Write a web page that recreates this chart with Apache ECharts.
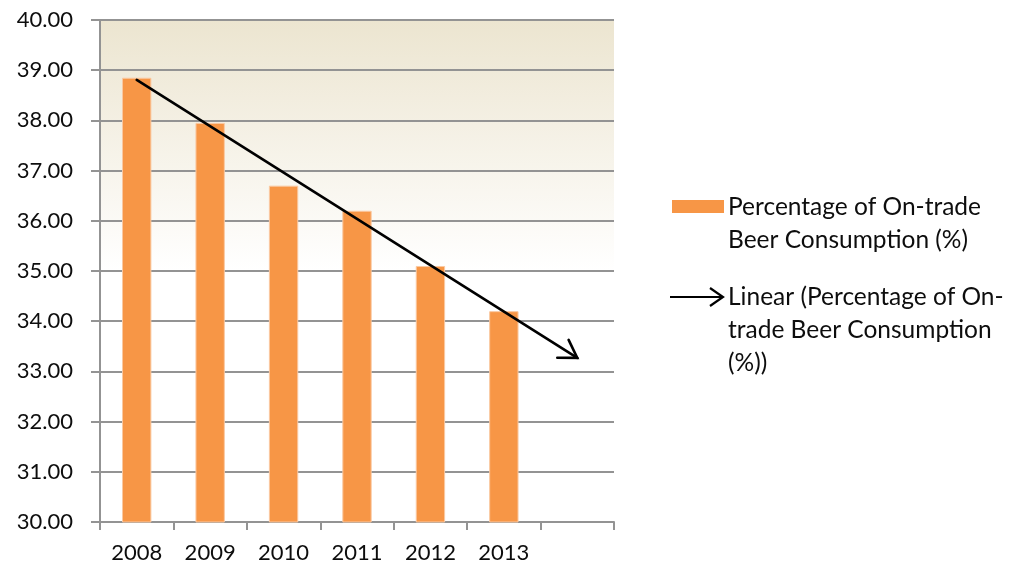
<!DOCTYPE html>
<html>
<head>
<meta charset="utf-8">
<title>On-trade Beer Consumption</title>
<script src="https://cdn.jsdelivr.net/npm/echarts@6/dist/echarts.min.js"></script>
<style>
  html, body { margin: 0; padding: 0; background: #ffffff; }
  #chart { width: 1012px; height: 569px; }
</style>
</head>
<body>
<div id="chart"></div>
<script>
// Years on the category axis; the last slot is left empty for the trend forecast
const years = ['2008', '2009', '2010', '2011', '2012', '2013', ''];
// Percentage of on-trade beer consumption per year
const onTradeShare = [38.85, 37.95, 36.7, 36.2, 35.1, 34.2];
// Value axis range and step
const yMin = 30;
const yMax = 40;
const yStep = 1;

const seriesName = 'Percentage of On-trade Beer Consumption (%)';
const trendName = 'Linear (Percentage of On-trade Beer Consumption (%))';

// Least-squares linear trend over the yearly values
function linearFit(values) {
  const n = values.length;
  let sx = 0, sy = 0, sxx = 0, sxy = 0;
  values.forEach(function (v, i) {
    sx += i; sy += v; sxx += i * i; sxy += i * v;
  });
  const slope = (n * sxy - sx * sy) / (n * sxx - sx * sx);
  const intercept = (sy - slope * sx) / n;
  return function (x) { return intercept + slope * x; };
}
const trend = linearFit(onTradeShare);
const lastIndex = years.length - 1;
// One segment: start index, start value, end index, end value
const trendSegment = [[0, trend(0), lastIndex, trend(lastIndex)]];

const font = 'Lato, "Open Sans", sans-serif';
const textColor = '#0d0d0d';
const gridColor = '#939393';

// Trend line with an open arrowhead at its far end
function renderTrend(params, api) {
  const p0 = api.coord([api.value(0), api.value(1)]);
  const p1 = api.coord([api.value(2), api.value(3)]);
  const ang = Math.atan2(p1[1] - p0[1], p1[0] - p0[0]);
  const arm = 20, spread = 0.56;
  const a1 = [p1[0] - arm * Math.cos(ang - spread), p1[1] - arm * Math.sin(ang - spread)];
  const a2 = [p1[0] - arm * Math.cos(ang + spread), p1[1] - arm * Math.sin(ang + spread)];
  const style = { stroke: '#000000', lineWidth: 2.6, fill: null, lineCap: 'round', lineJoin: 'miter' };
  return {
    type: 'group',
    children: [
      { type: 'line', shape: { x1: p0[0], y1: p0[1], x2: p1[0], y2: p1[1] }, style: style },
      { type: 'polyline', shape: { points: [a1, p1, a2] }, style: style }
    ]
  };
}

const chart = echarts.init(document.getElementById('chart'), null, { renderer: 'canvas' });

chart.setOption({
  animation: false,
  backgroundColor: '#ffffff',
  grid: {
    left: 100, right: 398, top: 20, bottom: 47,
    show: true,
    borderWidth: 0,
    backgroundColor: {
      type: 'linear', x: 0, y: 0, x2: 0, y2: 1,
      colorStops: [
        { offset: 0, color: '#ECE5D0' },
        { offset: 0.5, color: '#FFFFFF' },
        { offset: 1, color: '#FFFFFF' }
      ]
    }
  },
  xAxis: {
    type: 'category',
    data: years,
    boundaryGap: true,
    axisLine: { lineStyle: { color: gridColor, width: 2 } },
    axisTick: { show: true, length: 8, alignWithLabel: false, lineStyle: { color: gridColor, width: 2 } },
    axisLabel: { color: textColor, fontFamily: font, fontSize: 22, margin: 20 },
    splitLine: { show: false }
  },
  yAxis: {
    type: 'value',
    min: yMin, max: yMax, interval: yStep,
    axisLine: { show: true, lineStyle: { color: gridColor, width: 2 } },
    axisTick: { show: true, length: 9, lineStyle: { color: gridColor, width: 2 } },
    axisLabel: {
      color: textColor, fontFamily: font, fontSize: 22, margin: 27,
      formatter: function (v) { return v.toFixed(2); }
    },
    splitLine: { show: true, lineStyle: { color: gridColor, width: 2 } }
  },
  series: [
    {
      name: seriesName,
      type: 'bar',
      data: onTradeShare,
      barWidth: '40%',
      itemStyle: { color: '#F79646', borderColor: '#FAC9A2', borderWidth: 1 },
      emphasis: { disabled: true }
    },
    {
      name: trendName,
      type: 'custom',
      renderItem: renderTrend,
      data: trendSegment,
      encode: { x: [0, 2], y: [1, 3] },
      silent: true,
      z: 5
    }
  ],
  graphic: [
    {
      type: 'rect',
      shape: { x: 672, y: 200, width: 52, height: 13 },
      style: { fill: '#F79646' }
    },
    {
      type: 'text',
      x: 728, y: 190.5,
      style: {
        text: 'Percentage of On-trade\nBeer Consumption (%)',
        font: '24.5px ' + font,
        fill: textColor,
        lineHeight: 33,
        verticalAlign: 'top'
      }
    },
    {
      type: 'line',
      shape: { x1: 670, y1: 297, x2: 722, y2: 297 },
      style: { stroke: '#000', lineWidth: 2.2 }
    },
    {
      type: 'polyline',
      shape: { points: [[710, 288], [723, 297], [710, 306]] },
      style: { stroke: '#000', lineWidth: 2.2, fill: null }
    },
    {
      type: 'text',
      x: 728, y: 280.5,
      style: {
        text: 'Linear (Percentage of On-\ntrade Beer Consumption\n(%))',
        font: '24.5px ' + font,
        fill: textColor,
        lineHeight: 33,
        verticalAlign: 'top'
      }
    }
  ]
});
</script>
</body>
</html>
